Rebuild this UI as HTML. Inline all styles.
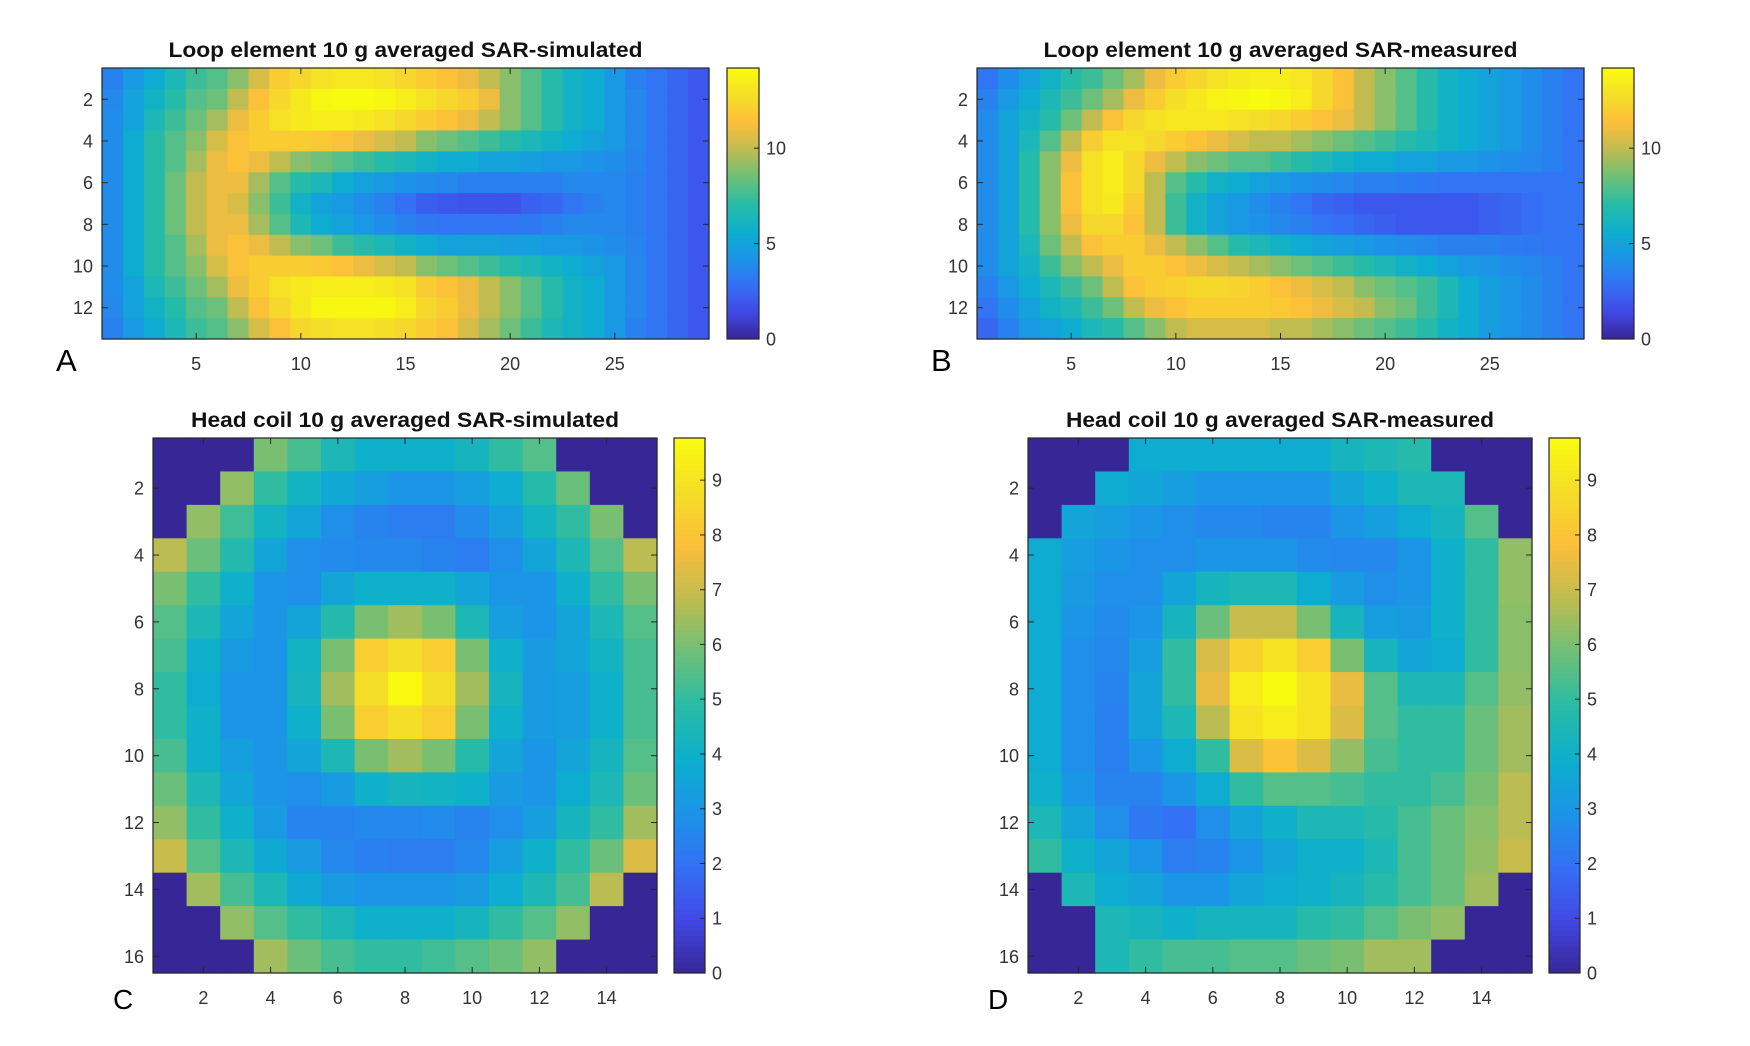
<!DOCTYPE html>
<html><head><meta charset="utf-8"><style>
html,body{margin:0;padding:0;background:#fff;}
svg{display:block;font-family:"Liberation Sans",Arial,sans-serif;}
</style></head><body>
<svg id="fig" width="1750" height="1046" viewBox="0 0 1750 1046" xmlns="http://www.w3.org/2000/svg"></svg>
<script>
// ---- Data ----
const loopSimulated = [
[3.5,4.5,5.5,6.5,7.5,8,9,10.5,12,12.5,13,13.2,13.2,13,12.5,12,11.5,11,10,9,8,7,6,5.5,4.5,3.5,3,2.5,2],
[3.8,5,6,7,8,8.5,10,11.5,12.5,13.3,14,14.2,14.2,14,13.5,13,12.5,12,11,9,8,7,6,5.5,4.5,3.8,3,2.5,2],
[4,5,6.5,7.5,8.5,9.5,11,12,13,13.3,13.5,13.5,13.3,13,12.5,12,11.5,11,10,9,8,7,6,5.5,4.5,3.8,3,2.5,2],
[4,5.5,7,8,9,10.5,11.5,12,12,12,11.8,11.5,11,10.5,10,9,8.5,8,7.5,7,6.5,6,5.5,5,4.5,3.8,3,2.5,2],
[4,5.5,7,8,9.5,11,11.5,11,10,9,8.5,8,7.5,7,6.5,6,5.5,5.5,5,5,4.8,4.5,4.5,4.2,4,3.6,3,2.5,2],
[4,5.5,7,8.5,10,11,11,9.5,8,7,6.5,5.5,5,4.5,4.2,4,3.8,3.5,3.5,3.5,3.5,3.5,3.8,3.8,3.8,3.5,3,2.5,2],
[4,5.5,7,8.5,10,11,10.5,9,7.5,6,5,4.5,4,3.5,2.8,2.2,2,1.8,1.8,1.8,2.3,2.5,3,3.5,3.8,3.5,3,2.5,2],
[4,5.5,7,8.5,10,11,11,9.5,8,6.5,5.5,5,4.5,4,3.5,3.2,3,3,3,3,3.2,3.5,3.8,3.8,3.8,3.5,3,2.5,2],
[4,5.5,7,8,9.5,11,11.5,11,10,9,8.5,7.5,7,6.5,6,5.5,5,5,5,4.8,4.8,4.5,4.5,4.2,4,3.6,3,2.5,2],
[4,5.5,7,8,9,10.5,11.5,12,12,12,11.8,11.5,11,10.5,10,9,8.5,8,7.5,7,6.5,6,5.5,5,4.5,3.8,3,2.5,2],
[4,5,6.5,7.5,8.5,9.5,11,12,13,13.3,13.5,13.5,13.5,13.3,13,12,11.5,11,10,9,8,7,6,5.5,4.5,3.8,3,2.5,2],
[3.8,5,6,7,8,8.5,10,11.5,12.5,13.3,14,14,14,14,13.5,12.5,12,11,10,9,8,7,6,5.5,4.5,3.8,3,2.5,2],
[3.5,4.5,5.5,6.5,7.5,8,9,10.5,11.5,12.5,12.8,13,13,12.8,12.5,12,11.5,10.5,9.5,8.5,7.5,6.5,6,5.5,4.5,3.5,3,2.5,2]
];
const loopMeasured = [
[3,4,5,6,7,7.5,8.5,9.5,11,12,12.5,13,13.3,13.5,13.5,13.2,12.5,11.5,10,9,8,7,6,5.5,5,4.5,4,3.5,3],
[3.5,4.5,5.5,6.5,7.5,8.5,9.5,11,12,12.8,13.3,13.8,14,14.2,14,13.5,12.5,11.5,10,9,8,7,6,5.5,5,4.5,4,3.5,3],
[4,5,6,7,8.5,10,11.5,12.5,13,13.2,13.2,13.2,13,12.8,12.5,12,11.5,11,10,9,8,7,6,5.5,5,4.5,4,3.5,3],
[4,5,6.5,8,10,12,13,13,12.5,12,11.5,11,10.5,10,10,9.5,9,8.5,8,7.5,7,6.5,6,5.5,5,4.5,4,3.5,3],
[4,5,7,9,11,13,13.5,12.5,11,10,9,8.5,8,8,7.5,7,6.5,6,5.5,5.5,5,5,4.5,4.5,4.2,4,3.8,3.5,3],
[4,5,7,9,11.5,13,13.5,12.5,10,8,7,6,5.5,5,4.5,4.2,4,3.8,3.5,3.5,3.3,3.2,3,3,3,3,3,3,3],
[4,5,7,9,11.5,13,13.3,12,10,7.5,6,5,4.5,4,3.5,3,2.5,2.3,2,2,2,2,2,2,2.3,2.5,2.8,3,3],
[4,5,7,9,11,12.5,12.5,11.5,10,7.5,6,5,4.5,4.2,3.8,3.5,3,2.8,2.5,2.2,2,2,2,2,2.3,2.5,2.8,3,3],
[4,5,6.5,8.5,10,11.5,12,12,11,10,9,8,7,6.5,6,5.5,5,4.8,4.5,4.2,4,3.8,3.5,3.5,3.5,3.3,3.2,3,3],
[4,5,6,7.5,9,10,11,12,12,11.5,11,10.5,10,9.5,9,8.5,8,7.5,7,6.5,6,5.5,5,4.5,4.3,4,3.8,3.5,3],
[3.5,4.5,5.5,6.5,7.5,8.5,10,11.5,12,12.2,12.5,12.5,12.3,12,11.5,11,10.5,10,9,8.5,8,7.5,6.5,5.5,4.8,4.3,4,3.5,3],
[3,4,5,6,6.5,7.5,8.5,10,11,11.5,12,12,12,12,11.8,11.5,11,10.5,10,9,8.5,7.5,6.5,5.5,4.8,4.3,4,3.5,3],
[2.5,3.5,4.5,5,5.5,6.5,7,8,9,10,10.5,10.5,10.5,10.5,10,10,9.5,9,8.5,8,7.5,7,6,5.5,4.8,4.3,4,3.5,3]
];
const headSimulated = [
[0,0,0,6,5.3,4.5,4,4,4,4.3,5,5.5,0,0,0],
[0,0,6.3,5,4.2,3.7,3.3,3,3,3.3,3.8,4.8,5.8,0,0],
[0,6.3,5.2,4.2,3.5,2.8,2.5,2.3,2.3,2.7,3.3,4.2,5,6,0],
[6.8,5.8,4.7,3.5,2.8,2.7,2.6,2.6,2.5,2.3,2.8,3.5,4.5,5.5,6.8],
[6,5,4,3,2.8,3.5,4,4,4,3.5,3,3,4,5,6],
[5.5,4.5,3.5,3,3.5,4.7,6,6.5,6,4.5,3.3,3,3.5,4.5,5.5],
[5.3,4,3.2,3,4.2,6,8.3,8.8,8.3,6,4,3.2,3.5,4.2,5.3],
[5,3.8,3,3,4.3,6.5,8.8,9.7,8.8,6.5,4.3,3.2,3.3,4,5.3],
[5,4,3,3,4,6,8.3,8.8,8.3,6,4,3.2,3.3,4,5.3],
[5.3,4,3.3,3,3.5,4.5,6,6.5,6,4.8,3.5,3,3.5,4.3,5.5],
[5.8,4.5,3.5,3,2.8,3.2,4,4.3,4.2,4,3.2,3,3.8,4.5,5.8],
[6.3,5,4,3.2,2.5,2.5,2.6,2.6,2.7,2.5,2.8,3.3,4.3,5,6.5],
[7,5.5,4.5,3.7,3.2,2.6,2.4,2.3,2.3,2.6,3.3,4,5,5.8,7.3],
[0,6.5,5.3,4.5,3.7,3.2,3,3,3,3.2,3.8,4.5,5.3,6.8,0],
[0,0,6.3,5.5,5,4.5,4,4,4,4.3,5,5.5,6.3,0,0],
[0,0,0,6.5,5.8,5.3,5,5,5.2,5.5,5.8,6.3,0,0,0]
];
const headMeasured = [
[0,0,0,3.8,3.8,3.8,3.8,3.8,3.8,4.3,4.5,4.8,0,0,0],
[0,0,3.8,3.6,3.3,3,3,3,3,3.5,4,4.5,4.5,0,0],
[0,3.5,3.3,3,2.8,2.6,2.6,2.5,2.5,3,3.3,3.8,4.3,5.5,0],
[3.8,3.3,3,2.8,2.8,3,3,3,2.7,2.6,2.6,3,4,5,6.3],
[3.8,3.2,2.8,2.8,3.5,4.3,4.5,4.5,3.8,3.2,2.8,3,4,5,6.3],
[3.8,3,2.7,3,4.3,5.8,7,7,6,4.3,3.3,3.2,4,5,6.2],
[3.8,2.8,2.6,3.3,5,7.2,8.5,9,8.3,6,4.3,3.5,3.8,5,6.2],
[3.8,2.8,2.5,3.5,5,7.5,9.3,9.8,9,7.5,5.5,4.5,4.5,5.5,6.3],
[3.8,2.8,2.4,3.5,4.5,6.8,9,9.3,9,7.3,5.5,5,5,5.8,6.5],
[3.8,2.8,2.4,3,3.8,5,7.3,8,7.3,6.3,5.3,5,5,5.8,6.5],
[4,3,2.5,2.5,3,3.8,5,5.5,5.5,5.3,5,5,5.3,6,6.8],
[4.5,3.5,2.8,2.2,2,2.8,3.5,4,4.5,4.5,4.8,5.3,5.8,6.2,6.8],
[5,4,3.5,3,2.3,2.5,3,3.5,4,4,4.5,5.3,5.8,6.3,7],
[0,4.5,3.8,3.5,3,3,3.5,3.8,4,4.3,4.8,5.3,5.8,6.5,0],
[0,0,4.5,4.3,4,4.3,4.3,4.3,4.8,5,5.5,6,6.3,0,0],
[0,0,4.5,5,5.3,5.3,5.5,5.5,5.8,6,6.5,6.5,0,0,0]
];
const loopXTicks = [5,10,15,20,25];
const loopYTicks = [2,4,6,8,10,12];
const loopCbTicks = [0,5,10];
const headXTicks = [2,4,6,8,10,12,14];
const headYTicks = [2,4,6,8,10,12,14,16];
const headCbTicks = [0,1,2,3,4,5,6,7,8,9];
const loopRange = [0,14.2];
const headRange = [0,9.77];

// ---- Rendering ----
const NS='http://www.w3.org/2000/svg';
const svg=document.getElementById('fig');
const stops=[[55,38,150],[66,72,230],[52,112,245],[28,148,232],[12,175,205],[40,188,165],[110,192,120],[190,188,80],[252,190,58],[245,222,40],[249,251,14]];
function parula(t){
  t=Math.max(0,Math.min(1,t));
  const p=t*(stops.length-1), i=Math.min(stops.length-2,Math.floor(p)), f=p-i;
  const a=stops[i], b=stops[i+1];
  return 'rgb('+a.map((v,k)=>Math.round(v+(b[k]-v)*f)).join(',')+')';
}
function mk(tag,attrs,parent){
  const e=document.createElementNS(NS,tag);
  for(const k in attrs) e.setAttribute(k,attrs[k]);
  (parent||svg).appendChild(e); return e;
}
function panel(cfg){
  const g=mk('g',{});
  
  
  const rows=cfg.data.length, cols=cfg.data[0].length;
  const cw=(cfg.x1-cfg.x0)/cols, ch=(cfg.y1-cfg.y0)/rows;
  const xs=c=>cfg.x0+(c-0.5)*cw, ys=r=>cfg.y0+(r-0.5)*ch;
  const vmin=cfg.range[0], vmax=cfg.range[1];
  cfg.data.forEach((row,r)=>row.forEach((v,c)=>{
    const rc=mk('rect',{x:(xs(c+1)-cw/2).toFixed(2),y:(ys(r+1)-ch/2).toFixed(2),width:(cw+0.6).toFixed(2),height:(ch+0.6).toFixed(2),fill:parula((v-vmin)/(vmax-vmin))},g);
    
    
  }));
  const fr=mk('rect',{x:cfg.x0,y:cfg.y0,width:cfg.x1-cfg.x0,height:cfg.y1-cfg.y0,fill:'none',stroke:'#262626','stroke-width':1.2},g);
  
  
  cfg.xt.forEach(t=>{
    const x=xs(t);
    mk('line',{x1:x,x2:x,y1:cfg.y1,y2:cfg.y1-6,stroke:'#262626','stroke-width':1},g);
    mk('line',{x1:x,x2:x,y1:cfg.y0,y2:cfg.y0+6,stroke:'#262626','stroke-width':1},g);
    const tx=mk('text',{x:x,y:cfg.xly,'text-anchor':'middle','font-size':18,fill:'#333'},g);
    tx.textContent=t;
    
    
  });
  cfg.yt.forEach(t=>{
    const y=ys(t);
    mk('line',{x1:cfg.x0,x2:cfg.x0+6,y1:y,y2:y,stroke:'#262626','stroke-width':1},g);
    mk('line',{x1:cfg.x1,x2:cfg.x1-6,y1:y,y2:y,stroke:'#262626','stroke-width':1},g);
    const tx=mk('text',{x:cfg.x0-9,y:y+6.5,'text-anchor':'end','font-size':18,fill:'#333'},g);
    tx.textContent=t;
    
    
  });
  const cb=mk('g',{},g);
  
  
  const N=100, hh=(cfg.y1-cfg.y0)/N;
  for(let i=0;i<N;i++){
    mk('rect',{x:cfg.cb0,y:(cfg.y1-(i+1)*hh).toFixed(2),width:cfg.cb1-cfg.cb0,height:(hh+0.5).toFixed(2),fill:parula((i+0.5)/N)},cb);
  }
  mk('rect',{x:cfg.cb0,y:cfg.y0,width:cfg.cb1-cfg.cb0,height:cfg.y1-cfg.y0,fill:'none',stroke:'#262626','stroke-width':1.2},cb);
  cfg.cbt.forEach(t=>{
    const y=cfg.y1-(t-vmin)/(vmax-vmin)*(cfg.y1-cfg.y0);
    mk('line',{x1:cfg.cb1,x2:cfg.cb1-5,y1:y,y2:y,stroke:'#262626','stroke-width':1},cb);
    const tx=mk('text',{x:cfg.cb1+7,y:y+6.5,'font-size':18,fill:'#333'},cb);
    tx.textContent=t;
    
    
  });
  const ti=mk('text',{x:(cfg.x0+cfg.x1)/2,y:cfg.ty,'text-anchor':'middle','font-size':21,'font-weight':'bold',fill:'#111',textLength:cfg.tl,lengthAdjust:'spacingAndGlyphs'},g);
  ti.textContent=cfg.title;
  
  
  const lb=mk('text',{x:cfg.lx,y:cfg.ly,'font-size':cfg.lf,fill:'#000'},g);
  lb.textContent=cfg.letter;
  
  
}
const loopGeo={x0:102,x1:709,y0:68,y1:339,cb0:727,cb1:759,xly:370,ty:57,tl:474,lx:56,ly:371,lf:31,range:loopRange,xt:loopXTicks,yt:loopYTicks,cbt:loopCbTicks};
const headGeo={x0:153,x1:657,y0:438,y1:973,cb0:674,cb1:705,xly:1004,ty:427,tl:428,lx:113,ly:1009,lf:28,range:headRange,xt:headXTicks,yt:headYTicks,cbt:headCbTicks};
function shift(o,dx){const r=Object.assign({},o);['x0','x1','cb0','cb1','lx'].forEach(k=>r[k]+=dx);return r;}
panel(Object.assign({},loopGeo,{name:'panel-a-loop-simulated',data:loopSimulated,title:'Loop element 10 g averaged SAR-simulated',letter:'A'}));
panel(Object.assign(shift(loopGeo,875),{name:'panel-b-loop-measured',data:loopMeasured,title:'Loop element 10 g averaged SAR-measured',letter:'B'}));
panel(Object.assign({},headGeo,{name:'panel-c-head-simulated',data:headSimulated,title:'Head coil 10 g averaged SAR-simulated',letter:'C'}));
panel(Object.assign(shift(headGeo,875),{name:'panel-d-head-measured',data:headMeasured,title:'Head coil 10 g averaged SAR-measured',letter:'D'}));
</script>
</body></html>
